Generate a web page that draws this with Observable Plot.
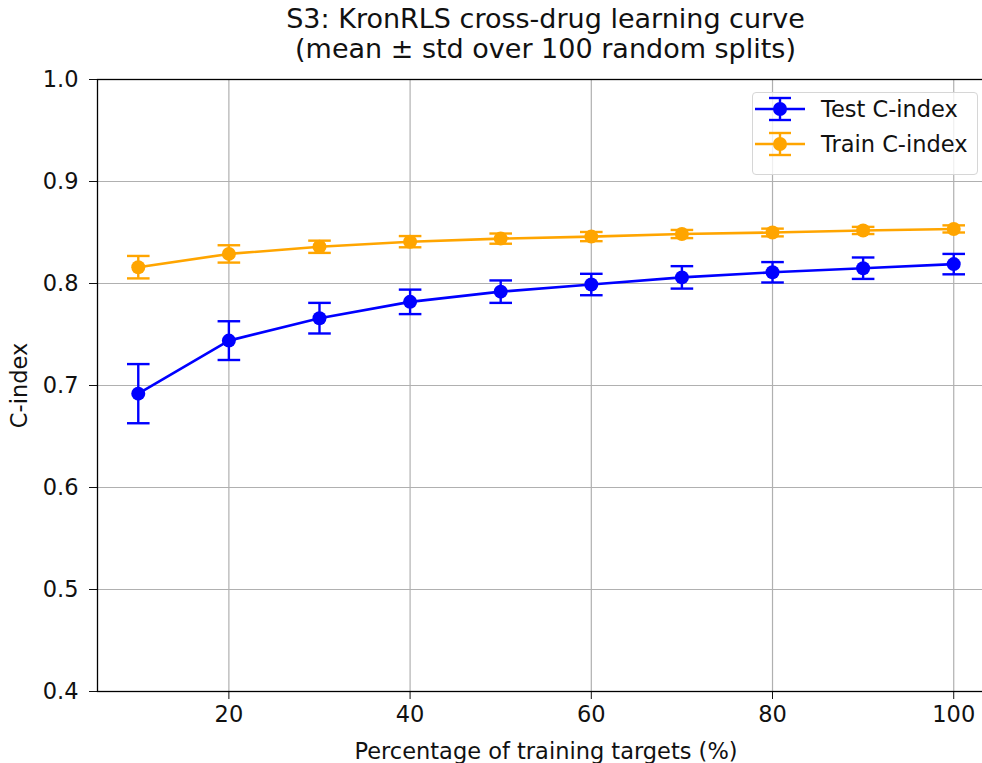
<!DOCTYPE html>
<html><head><meta charset="utf-8">
<script src="https://cdn.jsdelivr.net/npm/d3@7"></script>
<script src="https://cdn.jsdelivr.net/npm/@observablehq/plot@0.6"></script>
<style>
body{margin:0;background:#fff;font-family:"DejaVu Sans",sans-serif;}
#wrap{position:relative;width:982px;height:763px;overflow:hidden;background:#fff;}
#title{height:60px;margin-left:97px;width:897px;text-align:center;font-size:27px;line-height:30px;color:#111;padding-top:4px;box-sizing:border-box;white-space:nowrap;}
#legend{position:absolute;left:752px;top:92px;width:226px;height:83px;box-sizing:border-box;border:1px solid #d6d6d6;border-radius:4px;background:rgba(255,255,255,0.8);}
#legend .inner{position:relative;top:-2px;}
.row{display:flex;align-items:center;height:35px;font-size:22.5px;color:#111;white-space:nowrap;}
.row svg{margin-left:2px;margin-right:16px;flex:none;}
</style></head>
<body>
<div id="wrap">
<div id="title">S3: KronRLS cross-drug learning curve<br>(mean ± std over 100 random splits)</div>
<div id="chart"></div>
<div id="legend"><div class="inner"></div></div>
</div>
<script>
const pct = [10, 20, 30, 40, 50, 60, 70, 80, 90, 100];
const testMean = [0.692, 0.744, 0.766, 0.782, 0.792, 0.799, 0.806, 0.811, 0.815, 0.819];
const testStd = [0.029, 0.019, 0.015, 0.012, 0.011, 0.0105, 0.011, 0.010, 0.0105, 0.010];
const trainMean = [0.816, 0.829, 0.836, 0.841, 0.844, 0.846, 0.8485, 0.850, 0.852, 0.8535];
const trainStd = [0.011, 0.0085, 0.006, 0.0055, 0.005, 0.0045, 0.004, 0.0038, 0.0035, 0.0035];
const seriesNames = ["Test C-index", "Train C-index"];
const seriesColors = ["#0000ff", "#ffa500"];
const yTicks = [0.4, 0.5, 0.6, 0.7, 0.8, 0.9, 1.0];
const xTicks = [20, 40, 60, 80, 100];

const rows = [];
[[testMean, testStd], [trainMean, trainStd]].forEach(([m, s], k) => {
  pct.forEach((p, i) => rows.push({series: seriesNames[k], x: p, y: m[i], lo: m[i] - s[i], hi: m[i] + s[i]}));
});

const cap = {draw(ctx, size) { const r = Math.sqrt(size / Math.PI); ctx.moveTo(-r, 0); ctx.lineTo(r, 0); }};

const marks = [
  Plot.gridX(xTicks, {stroke: "#b0b0b0", strokeOpacity: 1, strokeWidth: 1.2}),
  Plot.gridY(yTicks, {stroke: "#b0b0b0", strokeOpacity: 1, strokeWidth: 1.2}),
  Plot.axisX(xTicks, {tickSize: 8, tickPadding: 7, label: "Percentage of training targets (%)", labelAnchor: "center", labelArrow: "none", labelOffset: 67, fontSize: 22.5}),
  Plot.axisY(yTicks, {tickSize: 8, tickPadding: 11, tickFormat: d => d.toFixed(1), label: "C-index", labelAnchor: "center", labelArrow: "none", labelOffset: 86, fontSize: 22.5}),
];
seriesNames.forEach((name, k) => {
  const d = rows.filter(r => r.series === name);
  const c = seriesColors[k];
  marks.push(
    Plot.line(d, {x: "x", y: "y", stroke: c, strokeWidth: 2.6}),
    Plot.ruleX(d, {x: "x", y1: "lo", y2: "hi", stroke: c, strokeWidth: 2.4}),
    Plot.dot(d, {x: "x", y: "lo", symbol: cap, r: 11.3, stroke: c, strokeWidth: 2.4, fill: "none"}),
    Plot.dot(d, {x: "x", y: "hi", symbol: cap, r: 11.3, stroke: c, strokeWidth: 2.4, fill: "none"}),
    Plot.dot(d, {x: "x", y: "y", r: 7, fill: c, stroke: "none"})
  );
});
marks.push(Plot.frame({stroke: "#000", strokeWidth: 1.3}));

const chart = Plot.plot({
  width: 982, height: 703,
  marginLeft: 97, marginRight: -12, marginTop: 19, marginBottom: 72,
  x: {domain: [5.5, 104.5]},
  y: {domain: [0.4, 1.0]},
  style: {fontFamily: "DejaVu Sans", fontSize: "22.5px", color: "#111", background: "transparent", overflow: "hidden"},
  marks
});
document.getElementById("chart").appendChild(chart);

const legend = document.querySelector("#legend .inner");
seriesNames.forEach((name, k) => {
  const c = seriesColors[k];
  const row = document.createElement("div");
  row.className = "row";
  row.innerHTML = `<svg width="50" height="30"><line x1="0" x2="50" y1="15" y2="15" stroke="${c}" stroke-width="2.6"/><line x1="25" x2="25" y1="4" y2="26" stroke="${c}" stroke-width="2.4"/><line x1="14" x2="36" y1="4" y2="4" stroke="${c}" stroke-width="2.4"/><line x1="14" x2="36" y1="26" y2="26" stroke="${c}" stroke-width="2.4"/><circle cx="25" cy="15" r="7" fill="${c}"/></svg><span>${name}</span>`;
  legend.appendChild(row);
});
</script>
</body></html>
